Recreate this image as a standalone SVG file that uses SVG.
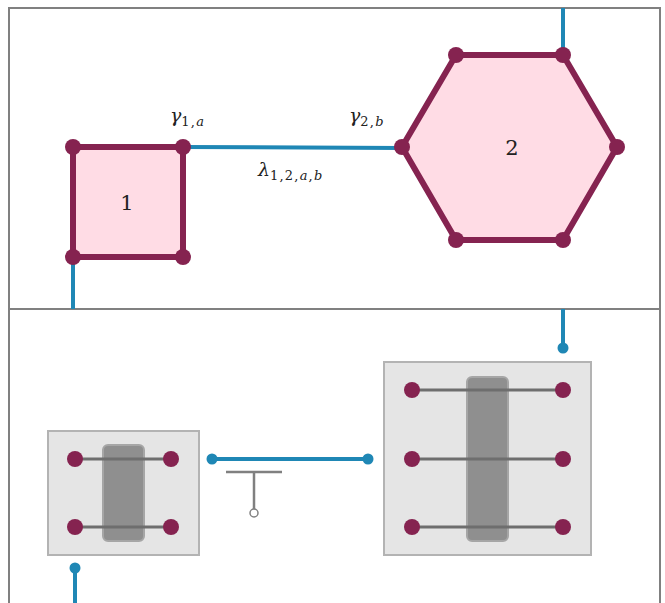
<svg xmlns="http://www.w3.org/2000/svg" width="665" height="603" viewBox="0 0 665 603">
<style>
.frame{fill:none;stroke:#808080;stroke-width:2}
.shape{fill:#ffdce5;stroke:#852350;stroke-width:6;stroke-linejoin:round}
.v{fill:#852350}
.blue{stroke:#1f87b5;stroke-width:4;fill:none}
.bdot{fill:#1f87b5}
.box{fill:#e5e5e5;stroke:#b3b3b3;stroke-width:2}
.bar{fill:#8f8f8f;stroke:#a6a6a6;stroke-width:2}
.rung{stroke:#6e6e6e;stroke-width:3}
.t{font-family:"DejaVu Serif","Liberation Serif",serif;fill:#222}
.sub{font-size:13px;letter-spacing:1.2px}
.gnd{stroke:#808080;stroke-width:2.5;fill:none}
</style>
<rect class="frame" x="9" y="8" width="651" height="301"/>
<rect class="frame" x="9" y="309" width="651" height="300"/>
<g id="connectors">
<line class="blue" x1="183" y1="147" x2="402" y2="148"/>
<line class="blue" x1="563" y1="8" x2="563" y2="55"/>
<line class="blue" x1="73" y1="257" x2="73" y2="309"/>
<line class="blue" x1="212" y1="459" x2="368" y2="459"/>
<circle class="bdot" cx="212" cy="459" r="5.5"/>
<circle class="bdot" cx="368" cy="459" r="5.5"/>
<line class="blue" x1="563" y1="309" x2="563" y2="348"/>
<circle class="bdot" cx="563" cy="348" r="5.5"/>
<line class="blue" x1="75" y1="568" x2="75" y2="603"/>
<circle class="bdot" cx="75" cy="568" r="5.5"/>
</g>
<g id="node1">
<rect class="shape" x="73" y="147" width="110" height="110"/>
<circle class="v" cx="73" cy="147" r="8"/>
<circle class="v" cx="183" cy="147" r="8"/>
<circle class="v" cx="73" cy="257" r="8"/>
<circle class="v" cx="183" cy="257" r="8"/>
<text class="t" x="127" y="210" font-size="21" text-anchor="middle">1</text>
</g>
<g id="node2">
<polygon class="shape" points="456,55 563,55 617,147 563,240 456,240 402,147"/>
<circle class="v" cx="456" cy="55" r="8"/>
<circle class="v" cx="563" cy="55" r="8"/>
<circle class="v" cx="617" cy="147" r="8"/>
<circle class="v" cx="563" cy="240" r="8"/>
<circle class="v" cx="456" cy="240" r="8"/>
<circle class="v" cx="402" cy="147" r="8"/>
<text class="t" x="512" y="155" font-size="21" text-anchor="middle">2</text>
</g>
<g id="labels">
<text class="t" x="170" y="122" font-size="19" font-style="italic">γ<tspan class="sub" font-style="normal" dy="4">1,</tspan><tspan class="sub">a</tspan></text>
<text class="t" x="349" y="122" font-size="19" font-style="italic">γ<tspan class="sub" font-style="normal" dy="4">2,</tspan><tspan class="sub">b</tspan></text>
<text class="t" x="258" y="176" font-size="19" font-style="italic">λ<tspan class="sub" font-style="normal" dy="4">1,2,</tspan><tspan class="sub">a</tspan><tspan class="sub" font-style="normal">,</tspan><tspan class="sub">b</tspan></text>
</g>
<g id="node3">
<rect class="box" x="48" y="431" width="151" height="124"/>
<rect class="bar" x="103" y="445" width="41" height="96" rx="5"/>
<line class="rung" x1="75" y1="459" x2="171" y2="459"/>
<line class="rung" x1="75" y1="527" x2="171" y2="527"/>
<circle class="v" cx="75" cy="459" r="8"/>
<circle class="v" cx="171" cy="459" r="8"/>
<circle class="v" cx="75" cy="527" r="8"/>
<circle class="v" cx="171" cy="527" r="8"/>
</g>
<g id="ground">
<line class="gnd" x1="226" y1="472" x2="282" y2="472"/>
<line class="gnd" x1="254" y1="472" x2="254" y2="509"/>
<circle cx="254" cy="513" r="4" fill="#fff" stroke="#808080" stroke-width="1.5"/>
</g>
<g id="node4">
<rect class="box" x="384" y="362" width="207" height="193"/>
<rect class="bar" x="467" y="377" width="41" height="164" rx="5"/>
<line class="rung" x1="412" y1="390" x2="563" y2="390"/>
<line class="rung" x1="412" y1="459" x2="563" y2="459"/>
<line class="rung" x1="412" y1="527" x2="563" y2="527"/>
<circle class="v" cx="412" cy="390" r="8"/>
<circle class="v" cx="563" cy="390" r="8"/>
<circle class="v" cx="412" cy="459" r="8"/>
<circle class="v" cx="563" cy="459" r="8"/>
<circle class="v" cx="412" cy="527" r="8"/>
<circle class="v" cx="563" cy="527" r="8"/>
</g>
</svg>
